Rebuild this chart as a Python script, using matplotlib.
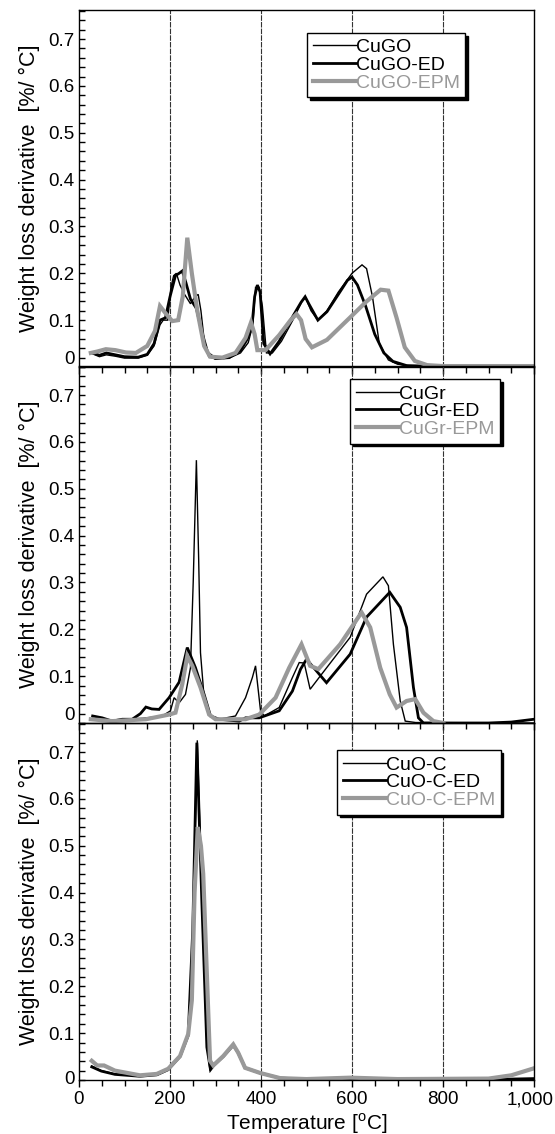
import matplotlib
matplotlib.use("Agg")
import matplotlib.pyplot as plt
from matplotlib.ticker import MultipleLocator, FuncFormatter
from matplotlib.transforms import ScaledTranslation

plt.rcParams["font.family"] = ["Liberation Sans", "DejaVu Sans"]

# Panel 1: CuGO
gox = [30, 45, 60, 80, 100, 130, 150, 165, 178, 185, 195, 202, 208, 214, 222, 232, 245, 255, 262, 268,
       276, 285, 300, 330, 355, 372, 382, 388, 396, 403, 412, 425, 445, 470, 490, 498, 510, 525, 545, 570,
       600, 622, 632, 645, 660, 680, 700, 730, 800, 1000]
goy = [0.028, 0.022, 0.026, 0.023, 0.019, 0.019, 0.025, 0.045, 0.09, 0.1, 0.1, 0.17, 0.195, 0.2, 0.175,
       0.155, 0.135, 0.15, 0.155, 0.12, 0.05, 0.022, 0.017, 0.019, 0.03, 0.052, 0.09, 0.17, 0.17, 0.13,
       0.03, 0.03, 0.055, 0.1, 0.14, 0.148, 0.12, 0.1, 0.12, 0.16, 0.2, 0.218, 0.21, 0.15, 0.05, 0.015,
       0.006, 0.002, 0.001, 0.001]
go_edx = [30, 45, 60, 80, 100, 130, 150, 165, 178, 190, 200, 212, 220, 227, 235, 245, 258, 270, 283, 300,
          330, 355, 370, 380, 386, 392, 398, 406, 420, 440, 465, 488, 497, 505, 525, 545, 570, 590, 600, 612,
          630, 650, 670, 690, 720, 800, 1000]
go_edy = [0.03, 0.025, 0.03, 0.026, 0.022, 0.021, 0.027, 0.05, 0.1, 0.105, 0.15, 0.195, 0.2, 0.205, 0.18,
          0.145, 0.125, 0.075, 0.03, 0.018, 0.02, 0.035, 0.06, 0.085, 0.15, 0.175, 0.16, 0.05, 0.028, 0.055,
          0.1, 0.138, 0.15, 0.135, 0.1, 0.118, 0.155, 0.185, 0.192, 0.175, 0.13, 0.07, 0.03, 0.012, 0.003,
          0.001, 0.001]
go_epmx = [26, 40, 59, 80, 103, 125, 150, 167, 178, 190, 205, 218, 228, 238, 248, 260, 275, 288, 315, 344,
           366, 378, 386, 392, 410, 440, 465, 478, 488, 498, 512, 545, 595, 632, 663, 680, 698, 716, 738, 765,
           800, 1000]
go_epmy = [0.03, 0.033, 0.038, 0.036, 0.031, 0.03, 0.045, 0.077, 0.13, 0.115, 0.098, 0.1, 0.15, 0.276, 0.2,
           0.12, 0.045, 0.022, 0.02, 0.03, 0.062, 0.095, 0.07, 0.036, 0.036, 0.068, 0.1, 0.113, 0.1, 0.06,
           0.042, 0.058, 0.105, 0.14, 0.165, 0.163, 0.105, 0.042, 0.013, 0.004, 0.002, 0.002]

# Panel 2: CuGr
grx = [30, 50, 73, 100, 140, 183, 201, 209, 220, 234, 245, 251, 258, 263, 267, 275, 289, 308, 344, 366,
       381, 388, 399, 407, 440, 469, 484, 495, 508, 530, 596, 632, 668, 680, 691, 706, 717, 740, 1000]
gry = [0.01, 0.008, 0.006, 0.008, 0.01, 0.015, 0.026, 0.054, 0.043, 0.061, 0.118, 0.3, 0.561, 0.35, 0.15,
       0.054, 0.015, 0.008, 0.015, 0.054, 0.097, 0.122, 0.026, 0.015, 0.033, 0.097, 0.129, 0.128, 0.072,
       0.1, 0.183, 0.275, 0.312, 0.293, 0.168, 0.047, 0.004, 0.001, 0.0]
gr_edx = [30, 51, 73, 95, 117, 135, 147, 160, 176, 198, 220, 238, 256, 275, 289, 308, 352, 366, 396, 440,
          469, 487, 500, 522, 544, 596, 632, 683, 706, 720, 735, 746, 757, 900, 950, 1000]
gr_edy = [0.015, 0.011, 0.004, 0.008, 0.008, 0.02, 0.034, 0.03, 0.029, 0.054, 0.087, 0.161, 0.118, 0.061,
          0.015, 0.008, 0.004, 0.011, 0.011, 0.026, 0.068, 0.115, 0.136, 0.111, 0.086, 0.147, 0.226, 0.279,
          0.247, 0.204, 0.076, 0.011, 0.0, 0.0, 0.002, 0.008]
gr_epmx = [26, 73, 147, 198, 212, 227, 238, 249, 267, 286, 300, 366, 396, 432, 462, 489, 508, 526, 574, 621,
           640, 662, 683, 698, 720, 739, 757, 779, 801]
gr_epmy = [0.008, 0.004, 0.008, 0.018, 0.022, 0.083, 0.143, 0.122, 0.076, 0.018, 0.008, 0.008, 0.018, 0.054,
           0.118, 0.168, 0.122, 0.115, 0.168, 0.236, 0.204, 0.118, 0.061, 0.033, 0.047, 0.051, 0.022, 0.004, 0.0]

# Panel 3: CuO-C
cx = [28, 49, 79, 134, 171, 196, 222, 240, 250, 260, 270, 281, 288, 295, 317, 339, 350, 365, 398, 442,
      500, 600, 900, 1000]
cy = [0.03, 0.02, 0.013, 0.008, 0.011, 0.022, 0.05, 0.095, 0.3, 0.725, 0.4, 0.076, 0.02, 0.03, 0.05, 0.075,
      0.058, 0.026, 0.015, 0.004, 0.002, 0.002, 0.001, 0.002]
c_edx = [28, 49, 79, 134, 171, 196, 222, 240, 250, 259, 270, 281, 289, 296, 317, 339, 350, 365, 398, 442,
         500, 600, 900, 1000]
c_edy = [0.028, 0.019, 0.012, 0.008, 0.011, 0.022, 0.05, 0.095, 0.32, 0.72, 0.38, 0.07, 0.022, 0.031, 0.05,
         0.074, 0.058, 0.026, 0.015, 0.004, 0.002, 0.002, 0.001, 0.003]
c_epmx = [28, 40, 55, 79, 134, 171, 196, 222, 240, 248, 254, 261, 268, 273, 281, 288, 295, 317, 339, 350,
          365, 398, 442, 500, 596, 700, 900, 950, 1000]
c_epmy = [0.041, 0.031, 0.031, 0.02, 0.01, 0.013, 0.024, 0.051, 0.098, 0.17, 0.4, 0.54, 0.5, 0.44, 0.226,
          0.041, 0.031, 0.051, 0.076, 0.058, 0.026, 0.015, 0.004, 0.002, 0.005, 0.002, 0.003, 0.01, 0.025]

panels = [
    [("CuGO", gox, goy), ("CuGO-ED", go_edx, go_edy), ("CuGO-EPM", go_epmx, go_epmy)],
    [("CuGr", grx, gry), ("CuGr-ED", gr_edx, gr_edy), ("CuGr-EPM", gr_epmx, gr_epmy)],
    [("CuO-C", cx, cy), ("CuO-C-ED", c_edx, c_edy), ("CuO-C-EPM", c_epmx, c_epmy)],
]
styles = [dict(color="black", lw=1.0), dict(color="black", lw=2.0), dict(color="#999999", lw=3.0)]
leg_pos = [(0.501, 0.936), (0.596, 0.963), (0.567, 0.924)]
zero_shift = [9, 9, 3]

fig = plt.figure(figsize=(5.55, 11.34), dpi=100)
left, width, h = 79 / 555, 455 / 555, 357 / 1134
bottoms = [1 - 367 / 1134, 1 - 723 / 1134, 1 - 1080 / 1134]

for i, series in enumerate(panels):
    ax = fig.add_axes([left, bottoms[i], width, h])
    ax.patch.set_visible(False)
    for xv in [200, 400, 600, 800]:
        ax.axvline(xv, color="#333333", lw=0.8, ls=(0, (5, 1)), zorder=0)
    for (name, xs, ys), st in zip(series, styles):
        ax.plot(xs, ys, label=name, solid_joinstyle="miter", **st)
    ax.set_xlim(0, 1000)
    ax.set_ylim(0, 0.762)
    ax.xaxis.set_major_locator(MultipleLocator(200))
    ax.xaxis.set_minor_locator(MultipleLocator(50))
    ax.yaxis.set_major_locator(MultipleLocator(0.1))
    ax.yaxis.set_minor_locator(MultipleLocator(0.02))
    ax.yaxis.set_major_formatter(FuncFormatter(lambda v, p: "0" if abs(v) < 1e-9 else "%.1f" % v))
    ax.tick_params(axis="x", which="both", direction="out", length=5, width=1, labelsize=13.5, pad=3)
    ax.tick_params(axis="y", which="both", direction="in", length=4, width=1, labelsize=13.5, pad=3)
    ax.tick_params(axis="x", which="minor", length=4)
    for s in ax.spines.values():
        s.set_linewidth(1.0)
    if i < 2:
        ax.tick_params(axis="x", labelbottom=False)
    else:
        ax.xaxis.set_major_formatter(FuncFormatter(lambda v, p: "{:,.0f}".format(v)))
        ax.set_xlabel("Temperature [$^{\\mathregular{o}}$C]", fontsize=15, labelpad=2)
    ax.set_ylabel("Weight loss derivative  [%/ °C]", fontsize=15.5)
    fig.canvas.draw()
    for lab in ax.get_yticklabels():
        if lab.get_text() == "0":
            lab.set_transform(lab.get_transform() + ScaledTranslation(0, zero_shift[i] / 100, fig.dpi_scale_trans))
    if i == 2:
        for lab in ax.get_xticklabels():
            if lab.get_text() == "1,000":
                lab.set_horizontalalignment("right")
                lab.set_transform(lab.get_transform() + ScaledTranslation(0.20, 0, fig.dpi_scale_trans))
    leg = ax.legend(loc="upper left", bbox_to_anchor=leg_pos[i], borderaxespad=0, fontsize=14,
                    frameon=True, fancybox=False, edgecolor="black", framealpha=1,
                    shadow={"color": "black", "alpha": 1}, handlelength=2.2, handletextpad=0.0,
                    labelspacing=0.0, borderpad=0.3)
    leg.get_frame().set_linewidth(1.0)
    leg.get_texts()[2].set_color("#999999")
    ax.yaxis.set_label_coords(-0.085, 0.5)

fig.savefig("out.png", dpi=100)
